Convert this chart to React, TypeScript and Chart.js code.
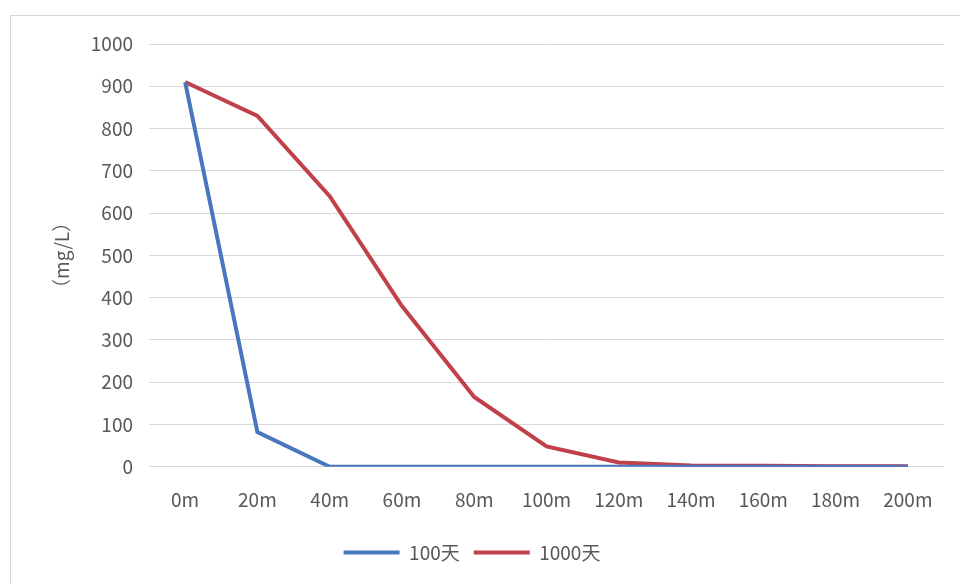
import React, { useEffect, useRef } from "react";
import { Chart, registerables } from "chart.js";

Chart.register(...registerables);

const categories = ["0m", "20m", "40m", "60m", "80m", "100m", "120m", "140m", "160m", "180m", "200m"];
const series100 = [910, 82, 0, 0, 0, 0, 0, 0, 0, 0, 0];
const series1000 = [910, 830, 640, 380, 165, 48, 10, 3, 2, 1, 1];
const seriesNames = ["100天", "1000天"];
const seriesColors = ["#4A76C0", "#C0414A"];
const yTicksMax = 1000;
const yTickStep = 100;
const yTitle = "（mg/L）";

const FONT = "'Noto Sans CJK SC', 'Noto Sans', sans-serif";
const TEXT = "#595959";
const GRID = "#d9d9d9";

export default function App() {
  const ref = useRef<HTMLCanvasElement | null>(null);

  useEffect(() => {
    if (!ref.current) return;
    const chart = new Chart(ref.current, {
      type: "line",
      data: {
        labels: categories,
        datasets: [
          {
            label: seriesNames[0],
            data: series100,
            borderColor: seriesColors[0],
            backgroundColor: seriesColors[0],
            borderWidth: 4,
            pointRadius: 0,
            tension: 0,
          },
          {
            label: seriesNames[1],
            data: series1000,
            borderColor: seriesColors[1],
            backgroundColor: seriesColors[1],
            borderWidth: 4,
            pointRadius: 0,
            tension: 0,
          },
        ],
      },
      options: {
        animation: false,
        responsive: false,
        devicePixelRatio: 1,
        layout: { padding: { top: 44, right: 16, left: 0, bottom: 12 } },
        plugins: {
          tooltip: { enabled: false },
          legend: {
            position: "bottom",
            labels: {
              boxWidth: 56,
              boxHeight: 4,
              padding: 14,
              color: TEXT,
              font: { family: FONT, size: 19 },
              generateLabels: (c: any) =>
                c.data.datasets.map((d: any, i: number) => ({
                  text: d.label,
                  fillStyle: d.borderColor,
                  strokeStyle: d.borderColor,
                  lineWidth: 0,
                  fontColor: TEXT,
                  hidden: false,
                  datasetIndex: i,
                })),
            },
          },
        },
        scales: {
          x: {
            offset: true,
            border: { display: false },
            grid: { display: false, drawTicks: false },
            ticks: {
              color: TEXT,
              font: { family: FONT, size: 19 },
              padding: 22,
              maxRotation: 0,
              autoSkip: false,
            },
            afterFit: (s: any) => {
              s.height = 62.3;
            },
          },
          y: {
            min: 0,
            max: yTicksMax,
            border: { display: false },
            grid: { color: GRID, lineWidth: 1, drawTicks: false },
            ticks: {
              stepSize: yTickStep,
              color: TEXT,
              font: { family: FONT, size: 19 },
              padding: 16,
              callback: (v: any) => String(v),
            },
            title: {
              display: true,
              text: yTitle,
              color: TEXT,
              font: { family: FONT, size: 19 },
              padding: { top: 50, bottom: 0 },
            },
            afterFit: (s: any) => {
              s.width = 149;
            },
          },
        },
      },
    });
    return () => chart.destroy();
  }, []);

  return (
    <div style={{ position: "absolute", left: 0, top: 0, width: 960, height: 584, background: "#fff", overflow: "hidden" }}>
      <div
        style={{
          position: "absolute",
          left: 10,
          top: 15,
          width: 960,
          height: 600,
          borderLeft: "1px solid #d4d4d4",
          borderTop: "1px solid #d4d4d4",
        }}
      />
      <canvas ref={ref} width={960} height={584} style={{ position: "absolute", left: 0, top: 0, width: 960, height: 584 }} />
    </div>
  );
}
